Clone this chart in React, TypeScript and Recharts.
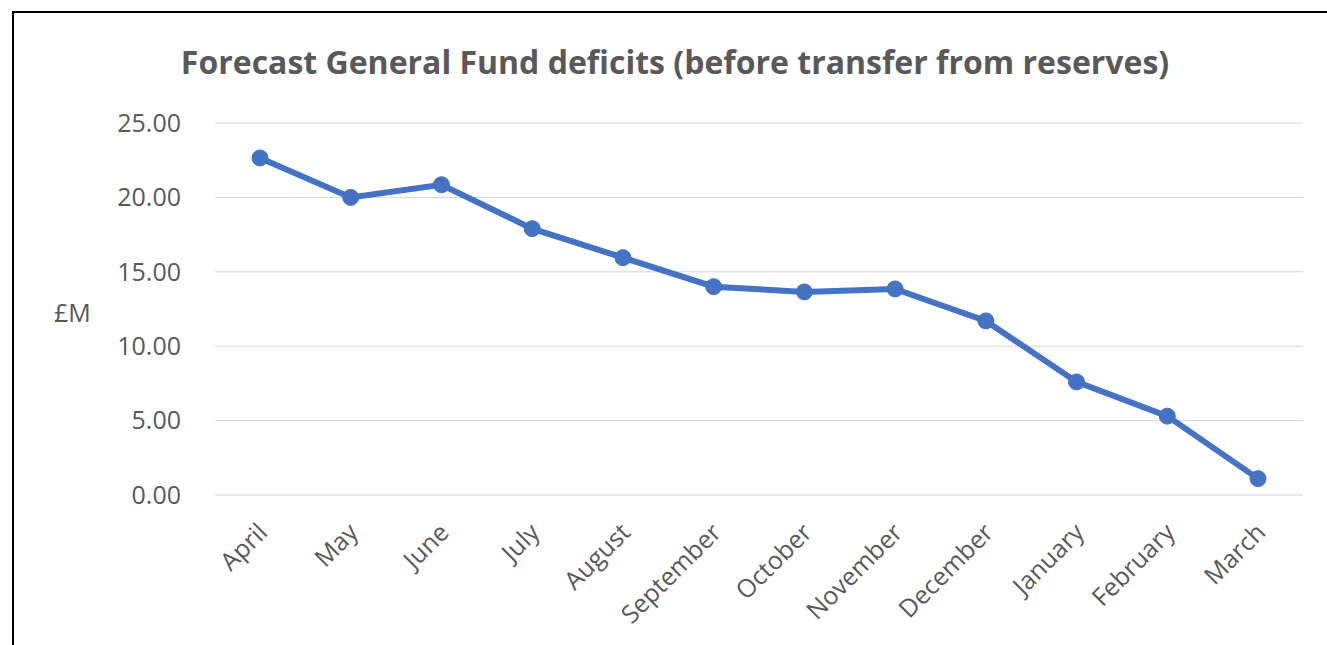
import { LineChart, Line, XAxis, YAxis, CartesianGrid } from 'recharts';

const months = [
  'April', 'May', 'June', 'July', 'August', 'September',
  'October', 'November', 'December', 'January', 'February', 'March',
];
const deficits = [22.65, 20.0, 20.85, 17.9, 15.95, 14.0, 13.65, 13.85, 11.7, 7.6, 5.3, 1.1];
const yTicks = [0, 5, 10, 15, 20, 25];

const data = months.map((m, i) => ({ month: m, value: deficits[i] }));

const FONT = '"Open Sans", sans-serif';
const GREY = '#595959';

function MonthTick({ x, y, payload }: any) {
  return (
    <text
      transform={`translate(${x + 9}, ${y + 31}) rotate(-45)`}
      textAnchor="end"
      fill={GREY}
      fontFamily={FONT}
      fontSize={25}
    >
      {payload.value}
    </text>
  );
}

export default function App() {
  return (
    <div style={{ position: 'relative', width: 1327, height: 645, background: '#fff', overflow: 'hidden' }}>
      <style>{`body{margin:0}`}</style>
      <div
        style={{
          position: 'absolute', left: 12, top: 11, width: 1400, height: 700,
          borderTop: '2px solid #000', borderLeft: '2px solid #000',
        }}
      />
      <div
        style={{
          position: 'absolute', left: 0, width: 1350, top: 42, textAlign: 'center',
          fontFamily: FONT, fontWeight: 700, fontSize: 32, color: GREY, lineHeight: '40px',
        }}
      >
        Forecast General Fund deficits (before transfer from reserves)
      </div>
      <div
        style={{
          position: 'absolute', left: 54, top: 296, fontFamily: FONT, fontSize: 25,
          color: GREY, lineHeight: '32px',
        }}
      >
        £M
      </div>
      <div style={{ position: 'absolute', left: 0, top: 0 }}>
        <LineChart width={1327} height={645} data={data} margin={{ top: 123, right: 24, bottom: 0, left: 0 }}>
          <CartesianGrid vertical={false} stroke="#d4d4d4" />
          <XAxis
            dataKey="month"
            height={150}
            axisLine={false}
            tickLine={false}
            interval={0}
            padding={{ left: 45, right: 45 }}
            tick={<MonthTick />}
          />
          <YAxis
            width={215}
            domain={[0, 25]}
            ticks={yTicks}
            axisLine={false}
            tickLine={false}
            tickSize={0}
            tickMargin={34}
            tickFormatter={(v: number) => v.toFixed(2)}
            tick={{ fill: GREY, fontFamily: FONT, fontSize: 25 }}
          />
          <Line
            type="linear"
            dataKey="value"
            stroke="#4472C4"
            strokeWidth={6}
            dot={{ r: 8, fill: '#4472C4', stroke: '#4472C4', strokeWidth: 1 }}
            isAnimationActive={false}
          />
        </LineChart>
      </div>
    </div>
  );
}
